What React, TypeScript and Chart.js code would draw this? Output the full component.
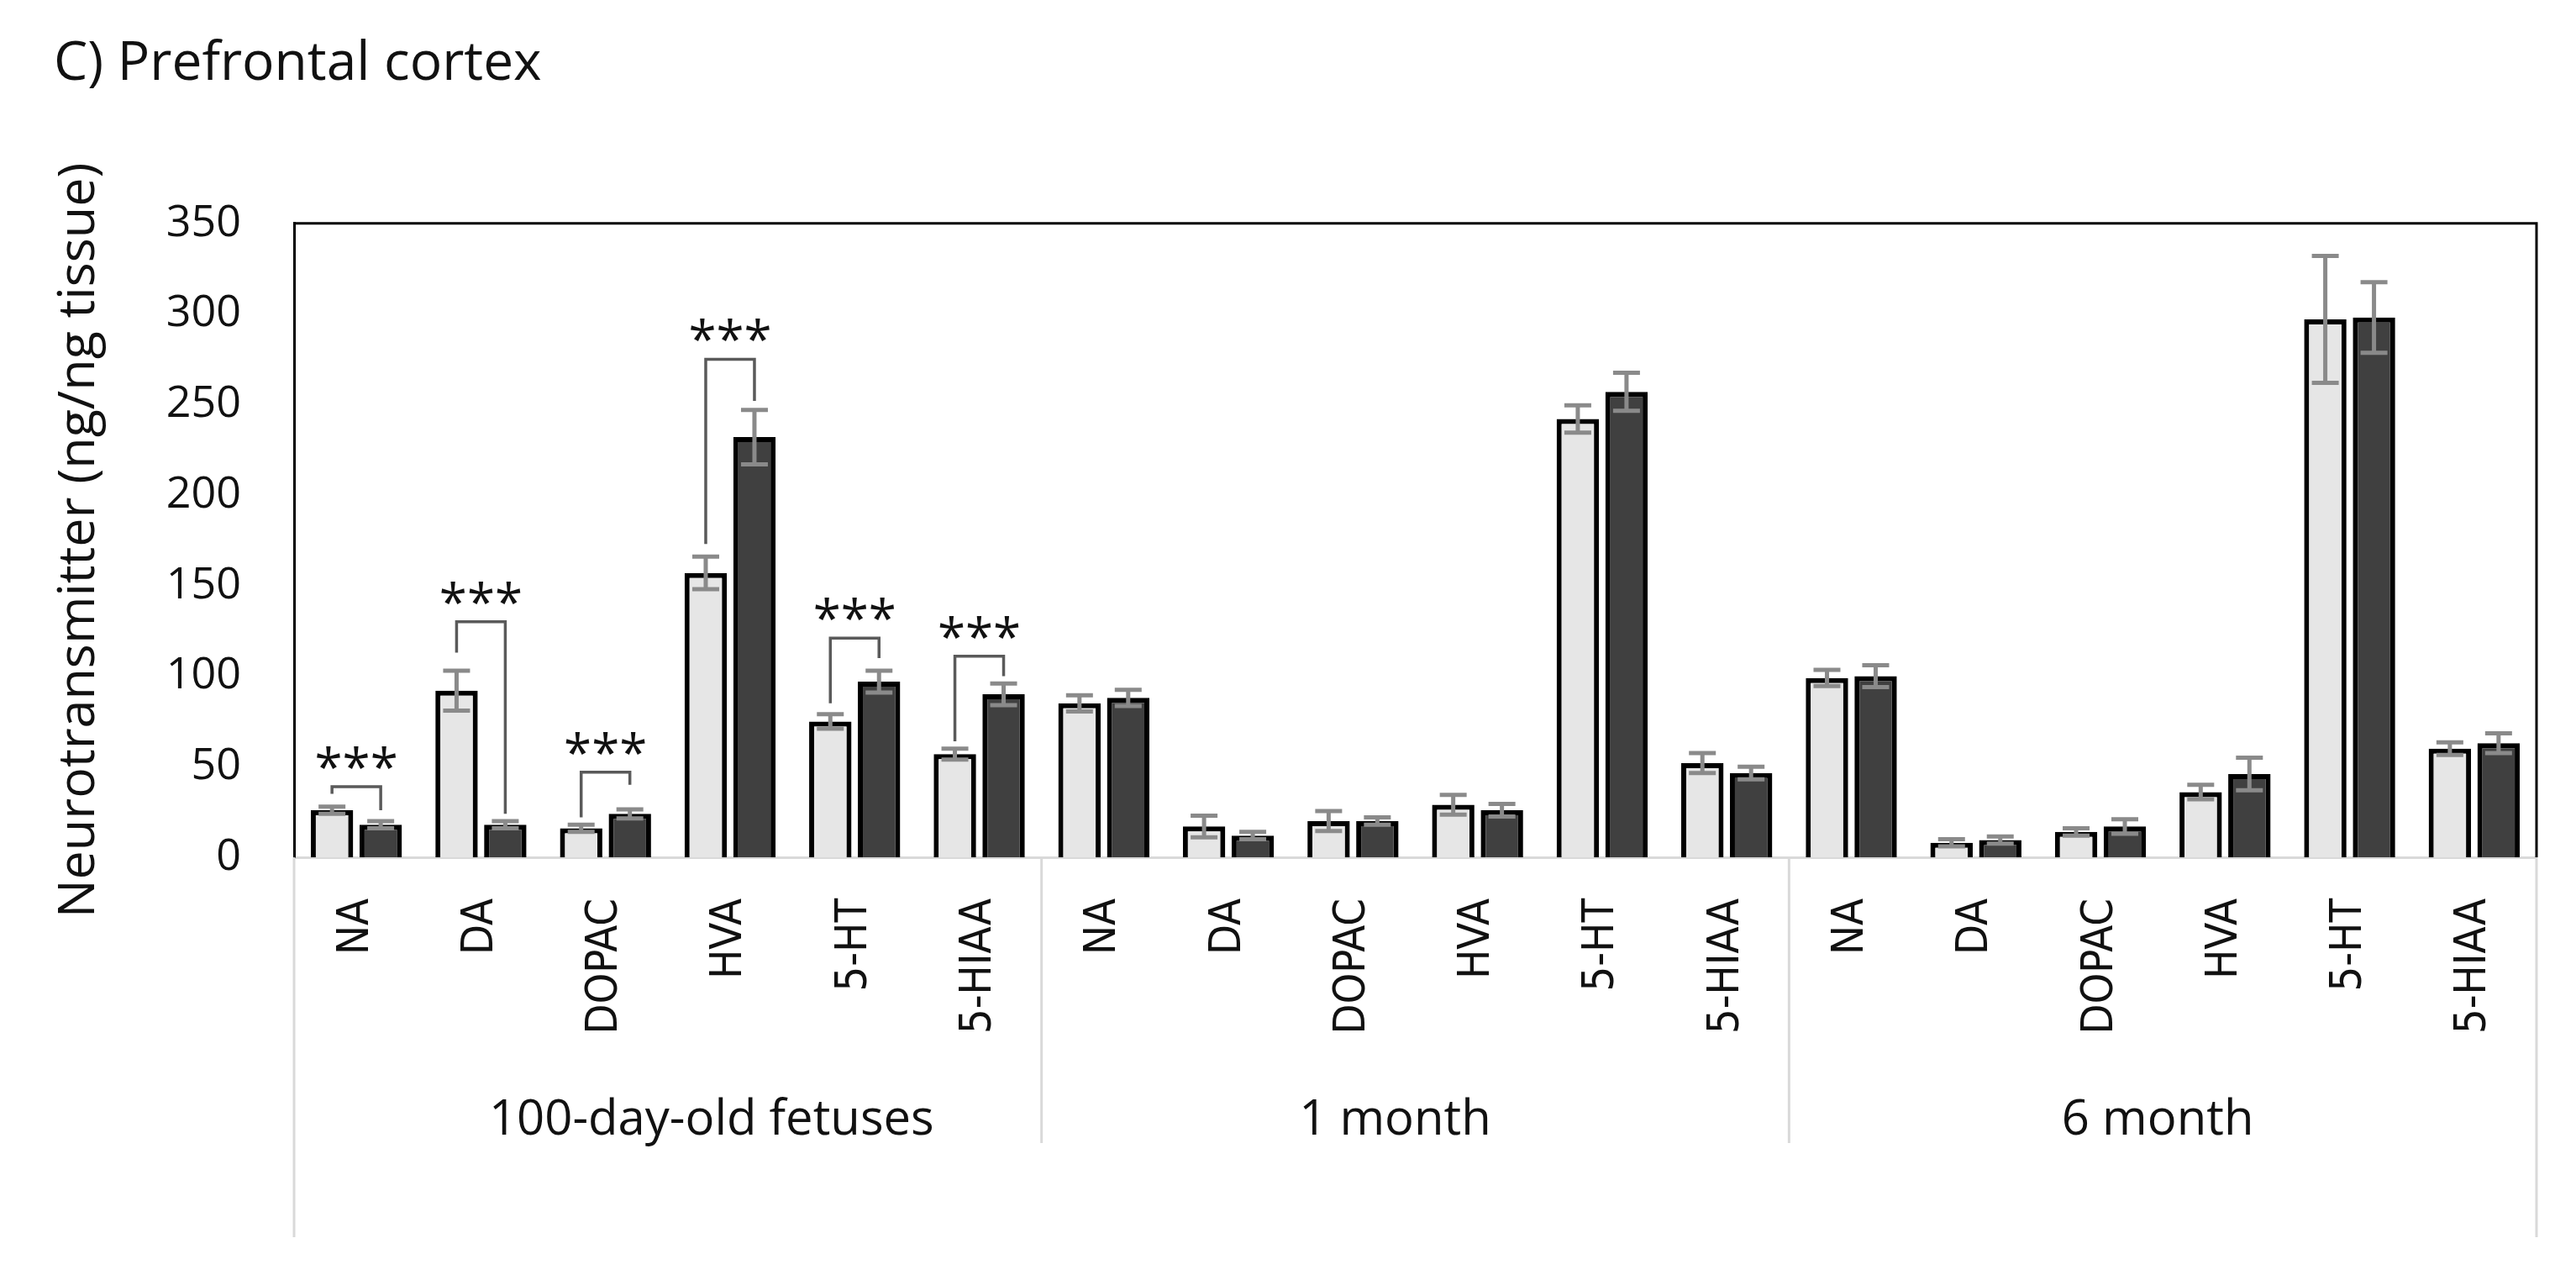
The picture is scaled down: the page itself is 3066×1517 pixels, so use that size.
import React, { useEffect, useRef } from 'react';
import { Chart, registerables } from 'chart.js';

Chart.register(...registerables);

// ---------- data ----------
const TITLE = 'C) Prefrontal cortex';
const Y_TITLE = 'Neurotransmitter (ng/ng tissue)';
const GROUPS = ['100-day-old fetuses', '1 month', '6 month'];
const COMPOUNDS = ['NA', 'DA', 'DOPAC', 'HVA', '5-HT', '5-HIAA'];
const Y_TICKS = [0, 50, 100, 150, 200, 250, 300, 350];

// light bars
const LIGHT_MEANS = [26, 92, 16, 157, 75, 57, 85, 17, 20, 29, 242, 52, 99, 8, 14, 36, 297, 60];
const LIGHT_ERRORS = [2, 11, 2, 9, 4, 3, 4.5, 6, 5.5, 5.5, 7.5, 5.5, 4.5, 2, 2, 4, 35, 3.5];
// dark bars
const DARK_MEANS = [18, 18, 24, 232, 97, 90, 88, 12, 20, 26, 257, 46.5, 100, 9.5, 17, 46, 298, 63];
const DARK_ERRORS = [2, 2, 2.5, 15, 6, 6, 4.5, 2, 2, 3.5, 10.5, 3.5, 6, 2, 4, 9, 19.5, 5.5];

// significance brackets (category index, bracket top, left leg end, right leg end)
const SIG_CATEGORY = [0, 1, 2, 3, 4, 5];
const SIG_TOP = [39, 130, 47, 275, 121, 111];
const SIG_LEFT_END = [35, 113, 22, 173, 85, 64];
const SIG_RIGHT_END = [26, 24, 40, 252, 110, 100];
const SIG_TEXT = ['***', '***', '***', '***', '***', '***'];

// ---------- style ----------
const W = 3066;
const H = 1517;
const LIGHT_FILL = '#e6e6e6';
const DARK_FILL = '#404040';
const ERR_COLOR = '#8a8a8a';
const BRACKET_COLOR = '#5a5a5a';
const SEP_COLOR = '#d9d9d9';
const CAP_HALF = 16;
const GROUP_LABEL_DX = [52, -24, -6];

const overlayPlugin = {
  id: 'overlay',
  afterDatasetsDraw(chart: any) {
    const { ctx } = chart;
    const y = chart.scales.y;
    ctx.save();
    // error bars
    const sets: [number[], number[]][] = [
      [LIGHT_MEANS, LIGHT_ERRORS],
      [DARK_MEANS, DARK_ERRORS],
    ];
    sets.forEach(([means, errs], di) => {
      const meta = chart.getDatasetMeta(di);
      meta.data.forEach((bar: any, i: number) => {
        const cx = bar.x;
        const top = y.getPixelForValue(means[i] + errs[i]);
        const bot = y.getPixelForValue(Math.max(0, means[i] - errs[i]));
        ctx.strokeStyle = ERR_COLOR;
        ctx.lineWidth = 5;
        ctx.lineCap = 'butt';
        ctx.beginPath();
        ctx.moveTo(cx, top);
        ctx.lineTo(cx, bot);
        ctx.moveTo(cx - CAP_HALF, top);
        ctx.lineTo(cx + CAP_HALF, top);
        ctx.moveTo(cx - CAP_HALF, bot);
        ctx.lineTo(cx + CAP_HALF, bot);
        ctx.stroke();
      });
    });
    // significance brackets
    const m0 = chart.getDatasetMeta(0);
    const m1 = chart.getDatasetMeta(1);
    SIG_CATEGORY.forEach((ci, k) => {
      const xl = m0.data[ci].x;
      const xr = m1.data[ci].x;
      const yt = y.getPixelForValue(SIG_TOP[k]);
      ctx.strokeStyle = BRACKET_COLOR;
      ctx.lineWidth = 3.5;
      ctx.lineJoin = 'miter';
      ctx.beginPath();
      ctx.moveTo(xl, y.getPixelForValue(SIG_LEFT_END[k]));
      ctx.lineTo(xl, yt);
      ctx.lineTo(xr, yt);
      ctx.lineTo(xr, y.getPixelForValue(SIG_RIGHT_END[k]));
      ctx.stroke();
      ctx.fillStyle = '#111';
      ctx.font = '60px "Open Sans"';
      ctx.textAlign = 'center';
      ctx.textBaseline = 'alphabetic';
      ctx.fillText(SIG_TEXT[k], (xl + xr) / 2, yt - 2);
    });
    ctx.restore();
  },
  afterDraw(chart: any) {
    const { ctx, chartArea: a } = chart;
    const x = chart.scales.x;
    ctx.save();
    // plot frame (top & right)
    ctx.strokeStyle = '#000';
    ctx.lineWidth = 3;
    ctx.beginPath();
    ctx.moveTo(a.left, a.top);
    ctx.lineTo(a.right, a.top);
    ctx.lineTo(a.right, a.bottom);
    ctx.stroke();
    // group separators and labels
    const n = COMPOUNDS.length;
    const half = (x.getPixelForValue(1) - x.getPixelForValue(0)) / 2;
    ctx.strokeStyle = SEP_COLOR;
    ctx.lineWidth = 3;
    for (let g = 0; g <= GROUPS.length; g++) {
      const idx = Math.min(g * n, GROUPS.length * n - 1);
      const px = g === GROUPS.length ? x.getPixelForValue(idx) + half : x.getPixelForValue(idx) - half;
      const outer = g === 0 || g === GROUPS.length;
      ctx.beginPath();
      ctx.moveTo(px, a.bottom);
      ctx.lineTo(px, a.bottom + (outer ? 452 : 340));
      ctx.stroke();
    }
    ctx.fillStyle = '#111';
    ctx.font = '58px "Open Sans"';
    ctx.textAlign = 'center';
    ctx.textBaseline = 'alphabetic';
    GROUPS.forEach((gName, g) => {
      const c = (x.getPixelForValue(g * n) + x.getPixelForValue(g * n + n - 1)) / 2;
      ctx.fillText(gName, c + GROUP_LABEL_DX[g], a.bottom + 330);
    });
    ctx.restore();
  },
};

export default function App() {
  const ref = useRef<HTMLCanvasElement | null>(null);

  useEffect(() => {
    document.body.style.margin = '0';
    const canvas = ref.current;
    if (!canvas) return;
    Chart.defaults.font.family = '"Open Sans", sans-serif';
    Chart.defaults.color = '#111';

    const labels = GROUPS.flatMap(() => COMPOUNDS);

    const chart = new Chart(canvas, {
      type: 'bar',
      data: {
        labels,
        datasets: [
          {
            label: 'Series 1',
            data: LIGHT_MEANS,
            backgroundColor: LIGHT_FILL,
            borderColor: '#000',
            borderWidth: 6,
            categoryPercentage: 0.782,
            barPercentage: 0.87,
          },
          {
            label: 'Series 2',
            data: DARK_MEANS,
            backgroundColor: DARK_FILL,
            borderColor: '#000',
            borderWidth: 6,
            categoryPercentage: 0.782,
            barPercentage: 0.87,
          },
        ],
      },
      options: {
        animation: false,
        responsive: false,
        devicePixelRatio: 1,
        events: [],
        layout: { padding: { left: 64, right: 47, top: 38, bottom: 0 } },
        plugins: {
          legend: { display: false },
          tooltip: { enabled: false },
          title: {
            display: true,
            text: TITLE,
            align: 'start',
            color: '#111',
            font: { family: '"Open Sans"', size: 64, weight: 'normal', lineHeight: 1.2 },
            padding: { top: 0, bottom: 151 },
          },
        },
        scales: {
          x: {
            grid: { display: false },
            border: { display: true, color: SEP_COLOR, width: 3 },
            ticks: {
              autoSkip: false,
              minRotation: 90,
              maxRotation: 90,
              padding: 41,
              color: '#111',
              font: { family: '"DejaVu Sans Condensed", "DejaVu Sans"', size: 52 },
            },
            afterFit: (scale: any) => {
              scale.height = 497;
            },
          },
          y: {
            min: 0,
            max: 350,
            grid: { display: false },
            border: { display: true, color: '#000', width: 3 },
            afterBuildTicks: (scale: any) => {
              scale.ticks = Y_TICKS.map((v) => ({ value: v }));
            },
            ticks: {
              padding: 55,
              color: '#111',
              font: { family: '"Open Sans"', size: 52 },
            },
            title: {
              display: true,
              text: Y_TITLE,
              color: '#111',
              font: { family: '"Open Sans"', size: 61, lineHeight: 1 },
              padding: 0,
            },
            afterFit: (scale: any) => {
              scale.width = 286;
            },
          },
        },
      },
      plugins: [overlayPlugin],
    });

    return () => chart.destroy();
  }, []);

  return (
    <div style={{ width: W, height: H, background: '#fff' }}>
      <canvas ref={ref} width={W} height={H} style={{ display: 'block', width: W, height: H }} />
    </div>
  );
}
